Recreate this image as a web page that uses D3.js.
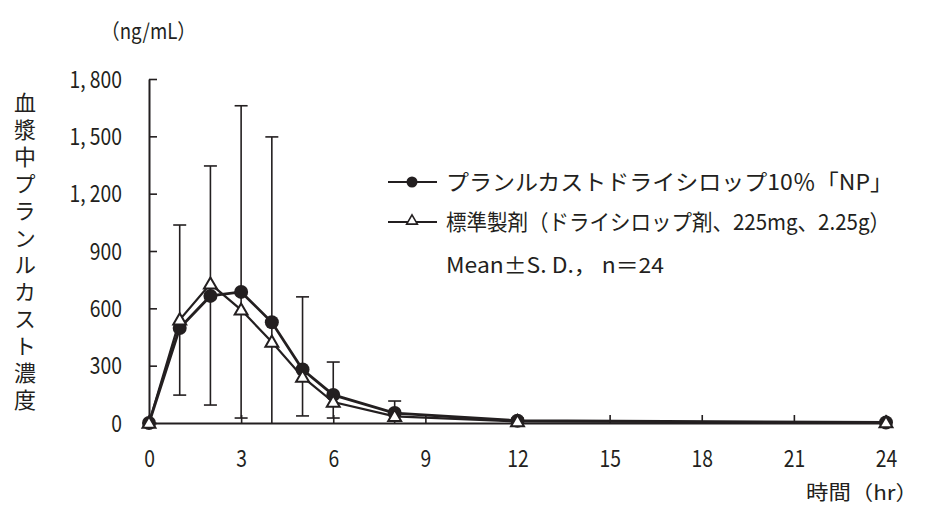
<!DOCTYPE html>
<html>
<head>
<meta charset="utf-8">
<script src="https://cdn.jsdelivr.net/npm/d3@7"></script>
<style>
  body { margin: 0; background: #fff; }
  svg { display: block; }
</style>
</head>
<body>
<div id="chart"></div>
<script>
const times = [0, 1, 2, 3, 4, 5, 6, 8, 12, 24];
const npMean = [0, 497, 665, 686, 527, 280, 147, 52, 12, 3];
const stdMean = [0, 540, 728, 592, 424, 241, 110, 35, 8, 2];
const sdUpper = [null, 1036, 1345, 1660, 1497, 660, 319, 115, 25, null];
const sdLower = [null, 146, 94, 26, 0, 37, 26, 0, 0, null];
const xTicks = [0, 3, 6, 9, 12, 15, 18, 21, 24];
const yTicks = [0, 300, 600, 900, 1200, 1500, 1800];
const legendLabels = ['プランルカストドライシロップ10％「NP」', '標準製剤（ドライシロップ剤、225mg、2.25g）'];

const ink = '#231f20';
const jp = '"Noto Sans CJK JP", "Noto Sans", sans-serif';

const svg = d3.select('#chart').append('svg')
  .attr('width', 925)
  .attr('height', 508);

const x = d3.scaleLinear().domain([0, 24]).range([149, 886]);
const y = d3.scaleLinear().domain([0, 1800]).range([423, 79]);

// axes
const fmt = d => d3.format(',')(d).replace(',', ', ');

const yAxis = svg.append('g')
  .attr('transform', `translate(${x(0)},0)`)
  .call(d3.axisLeft(y).tickValues(yTicks).tickSizeInner(-8).tickSizeOuter(0).tickPadding(27).tickFormat(fmt));

const xAxis = svg.append('g')
  .attr('transform', `translate(0,${y(0)})`)
  .call(d3.axisBottom(x).tickValues(xTicks).tickSizeInner(-8).tickSizeOuter(0).tickPadding(28));

[yAxis, xAxis].forEach(ax => {
  ax.select('.domain').attr('stroke', ink).attr('stroke-width', 2);
  ax.selectAll('.tick line').attr('stroke', ink).attr('stroke-width', 1.6);
  ax.selectAll('.tick text')
    .attr('fill', ink)
    .style('font-family', jp)
    .style('font-size', '23px')
    .each(function() {
      // condensed digits like the original
      const w = this.getComputedTextLength();
      d3.select(this).attr('textLength', w * 0.84).attr('lengthAdjust', 'spacingAndGlyphs');
    });
});
yAxis.selectAll('.tick text').attr('dy', '0.36em');

// error bars
const capW = 6.5;
const bars = svg.append('g').attr('stroke', ink).attr('stroke-width', 1.6);
times.forEach((t, i) => {
  if (sdUpper[i] == null) return;
  const lo = sdLower[i] == null ? 0 : sdLower[i];
  bars.append('line')
    .attr('x1', x(t)).attr('x2', x(t))
    .attr('y1', y(lo)).attr('y2', y(sdUpper[i]));
  bars.append('line')
    .attr('x1', x(t) - capW).attr('x2', x(t) + capW)
    .attr('y1', y(sdUpper[i])).attr('y2', y(sdUpper[i]));
  if (lo > 0) {
    bars.append('line')
      .attr('x1', x(t) - capW).attr('x2', x(t) + capW)
      .attr('y1', y(lo)).attr('y2', y(lo));
  }
});

// lines
const line = d3.line().x(d => x(d[0])).y(d => y(d[1]));
const stdPts = times.map((t, i) => [t, stdMean[i]]);
const npPts = times.map((t, i) => [t, npMean[i]]);

svg.append('path')
  .attr('d', line(stdPts))
  .attr('fill', 'none')
  .attr('stroke', ink)
  .attr('stroke-width', 2.2);

svg.append('path')
  .attr('d', line(npPts))
  .attr('fill', 'none')
  .attr('stroke', ink)
  .attr('stroke-width', 2.8);

// markers
const tri = d3.symbol().type(d3.symbolTriangle).size(72);

svg.append('g').selectAll('circle')
  .data(npPts)
  .join('circle')
  .attr('cx', d => x(d[0]))
  .attr('cy', d => y(d[1]))
  .attr('r', 7)
  .attr('fill', ink);

svg.append('g').selectAll('path')
  .data(stdPts)
  .join('path')
  .attr('d', tri)
  .attr('transform', d => `translate(${x(d[0])},${y(d[1]) + 1})`)
  .attr('fill', '#fff')
  .attr('stroke', ink)
  .attr('stroke-width', 2);

// legend
const lg = svg.append('g');
[182, 222].forEach((ly, i) => {
  lg.append('line')
    .attr('x1', 388).attr('x2', 437)
    .attr('y1', ly).attr('y2', ly)
    .attr('stroke', ink).attr('stroke-width', 2);
  if (i === 0) {
    lg.append('circle').attr('cx', 412).attr('cy', ly).attr('r', 5.5).attr('fill', ink);
  } else {
    lg.append('path').attr('d', d3.symbol().type(d3.symbolTriangle).size(50))
      .attr('transform', `translate(412,${ly - 1})`)
      .attr('fill', '#fff').attr('stroke', ink).attr('stroke-width', 1.6);
  }
  lg.append('text')
    .attr('x', 446).attr('y', ly + 8)
    .attr('fill', ink)
    .attr('textLength', i === 0 ? 447 : 444)
    .attr('lengthAdjust', 'spacingAndGlyphs')
    .style('font-family', jp)
    .style('font-size', '22px')
    .text(legendLabels[i]);
});
lg.append('text')
  .attr('x', 446).attr('y', 273)
  .attr('fill', ink)
  .attr('textLength', 218)
  .attr('lengthAdjust', 'spacingAndGlyphs')
  .style('font-family', jp)
  .style('font-size', '21px')
  .text('Mean±S. D.， n＝24');

// axis titles
svg.append('text')
  .attr('x', 101).attr('y', 39)
  .attr('fill', ink)
  .attr('textLength', 95)
  .attr('lengthAdjust', 'spacingAndGlyphs')
  .style('font-family', jp)
  .style('font-size', '21px')
  .text('（ng/mL）');

svg.append('text')
  .attr('x', 806).attr('y', 500)
  .attr('fill', ink)
  .attr('textLength', 112)
  .attr('lengthAdjust', 'spacingAndGlyphs')
  .style('font-family', jp)
  .style('font-size', '20px')
  .text('時間（hr）');

svg.append('text')
  .attr('x', 25).attr('y', 92)
  .attr('fill', ink)
  .style('writing-mode', 'vertical-rl')
  .style('font-family', jp)
  .style('font-size', '22px')
  .style('letter-spacing', '5px')
  .text('血漿中プランルカスト濃度');
</script>
</body>
</html>
